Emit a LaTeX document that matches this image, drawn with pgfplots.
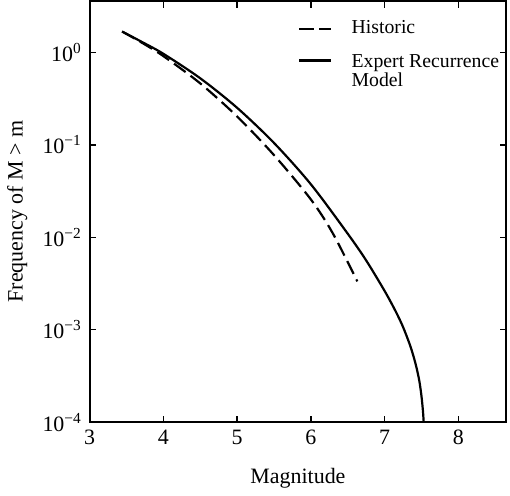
\documentclass[border=0pt]{standalone}
\usepackage{fontspec}
\setmainfont{Liberation Serif}
\usepackage{pgfplots}
\pgfplotsset{compat=1.18}

\begin{document}
\begin{tikzpicture}
\begin{axis}[
  scale only axis,
  width=190pt, height=192pt,
  ymode=log,
  xmin=3, xmax=8.65,
  ymin=1e-4, ymax=3.6,
  xtick={3,4,5,6,7,8},
  ytick={1e-4,1e-3,1e-2,1e-1,1},
  yticklabels={10\textsuperscript{−4},10\textsuperscript{−3},10\textsuperscript{−2},10\textsuperscript{−1},10\textsuperscript{0}},
  yminorticks=false,
  /pgf/number format/assume math mode=true,
  axis line style={line width=1pt},
  tick style={black, line width=0.6pt},
  major tick length=3pt,
  xlabel={Magnitude},
  ylabel={Frequency of M > m},
  xlabel style={yshift=-4pt},
  legend cell align=left,
  legend style={draw=none, fill=none, at={(1.01,0.975)}, anchor=north east,
    font=\small, row sep=2pt, column sep=7pt},
  legend image post style={xscale=0.85},
]
% historic
\addplot[black, line width=1pt, dash pattern=on 6.5pt off 2.8pt, smooth, tension=0.5]
  coordinates {
  (3.44,1.687) (3.7,1.288) (4.0,0.914) (4.5,0.463) (5.0,0.203)
  (5.5,0.0776) (6.0,0.0257) (6.3,0.01096) (6.63,0.00333)
  };
% expert recurrence model
\addplot[black, line width=1pt, smooth, tension=0.5]
  coordinates {
  (3.44,1.687) (3.7,1.312) (4.0,0.968) (4.5,0.526) (5.0,0.252)
  (5.5,0.105) (6.0,0.0375) (6.5,0.01094) (6.75,0.00562) (7.0,0.00263)
  (7.15,0.00158) (7.25,0.00107) (7.35,0.000661) (7.42,0.000427)
  (7.47,0.000282) (7.50,0.000191) (7.52,0.000132) (7.53,0.0001)
  };
\legend{Historic,{\begin{tabular}[t]{@{}l@{}}Expert Recurrence\\[-2pt]Model\end{tabular}}}
\end{axis}
\end{tikzpicture}
\end{document}
